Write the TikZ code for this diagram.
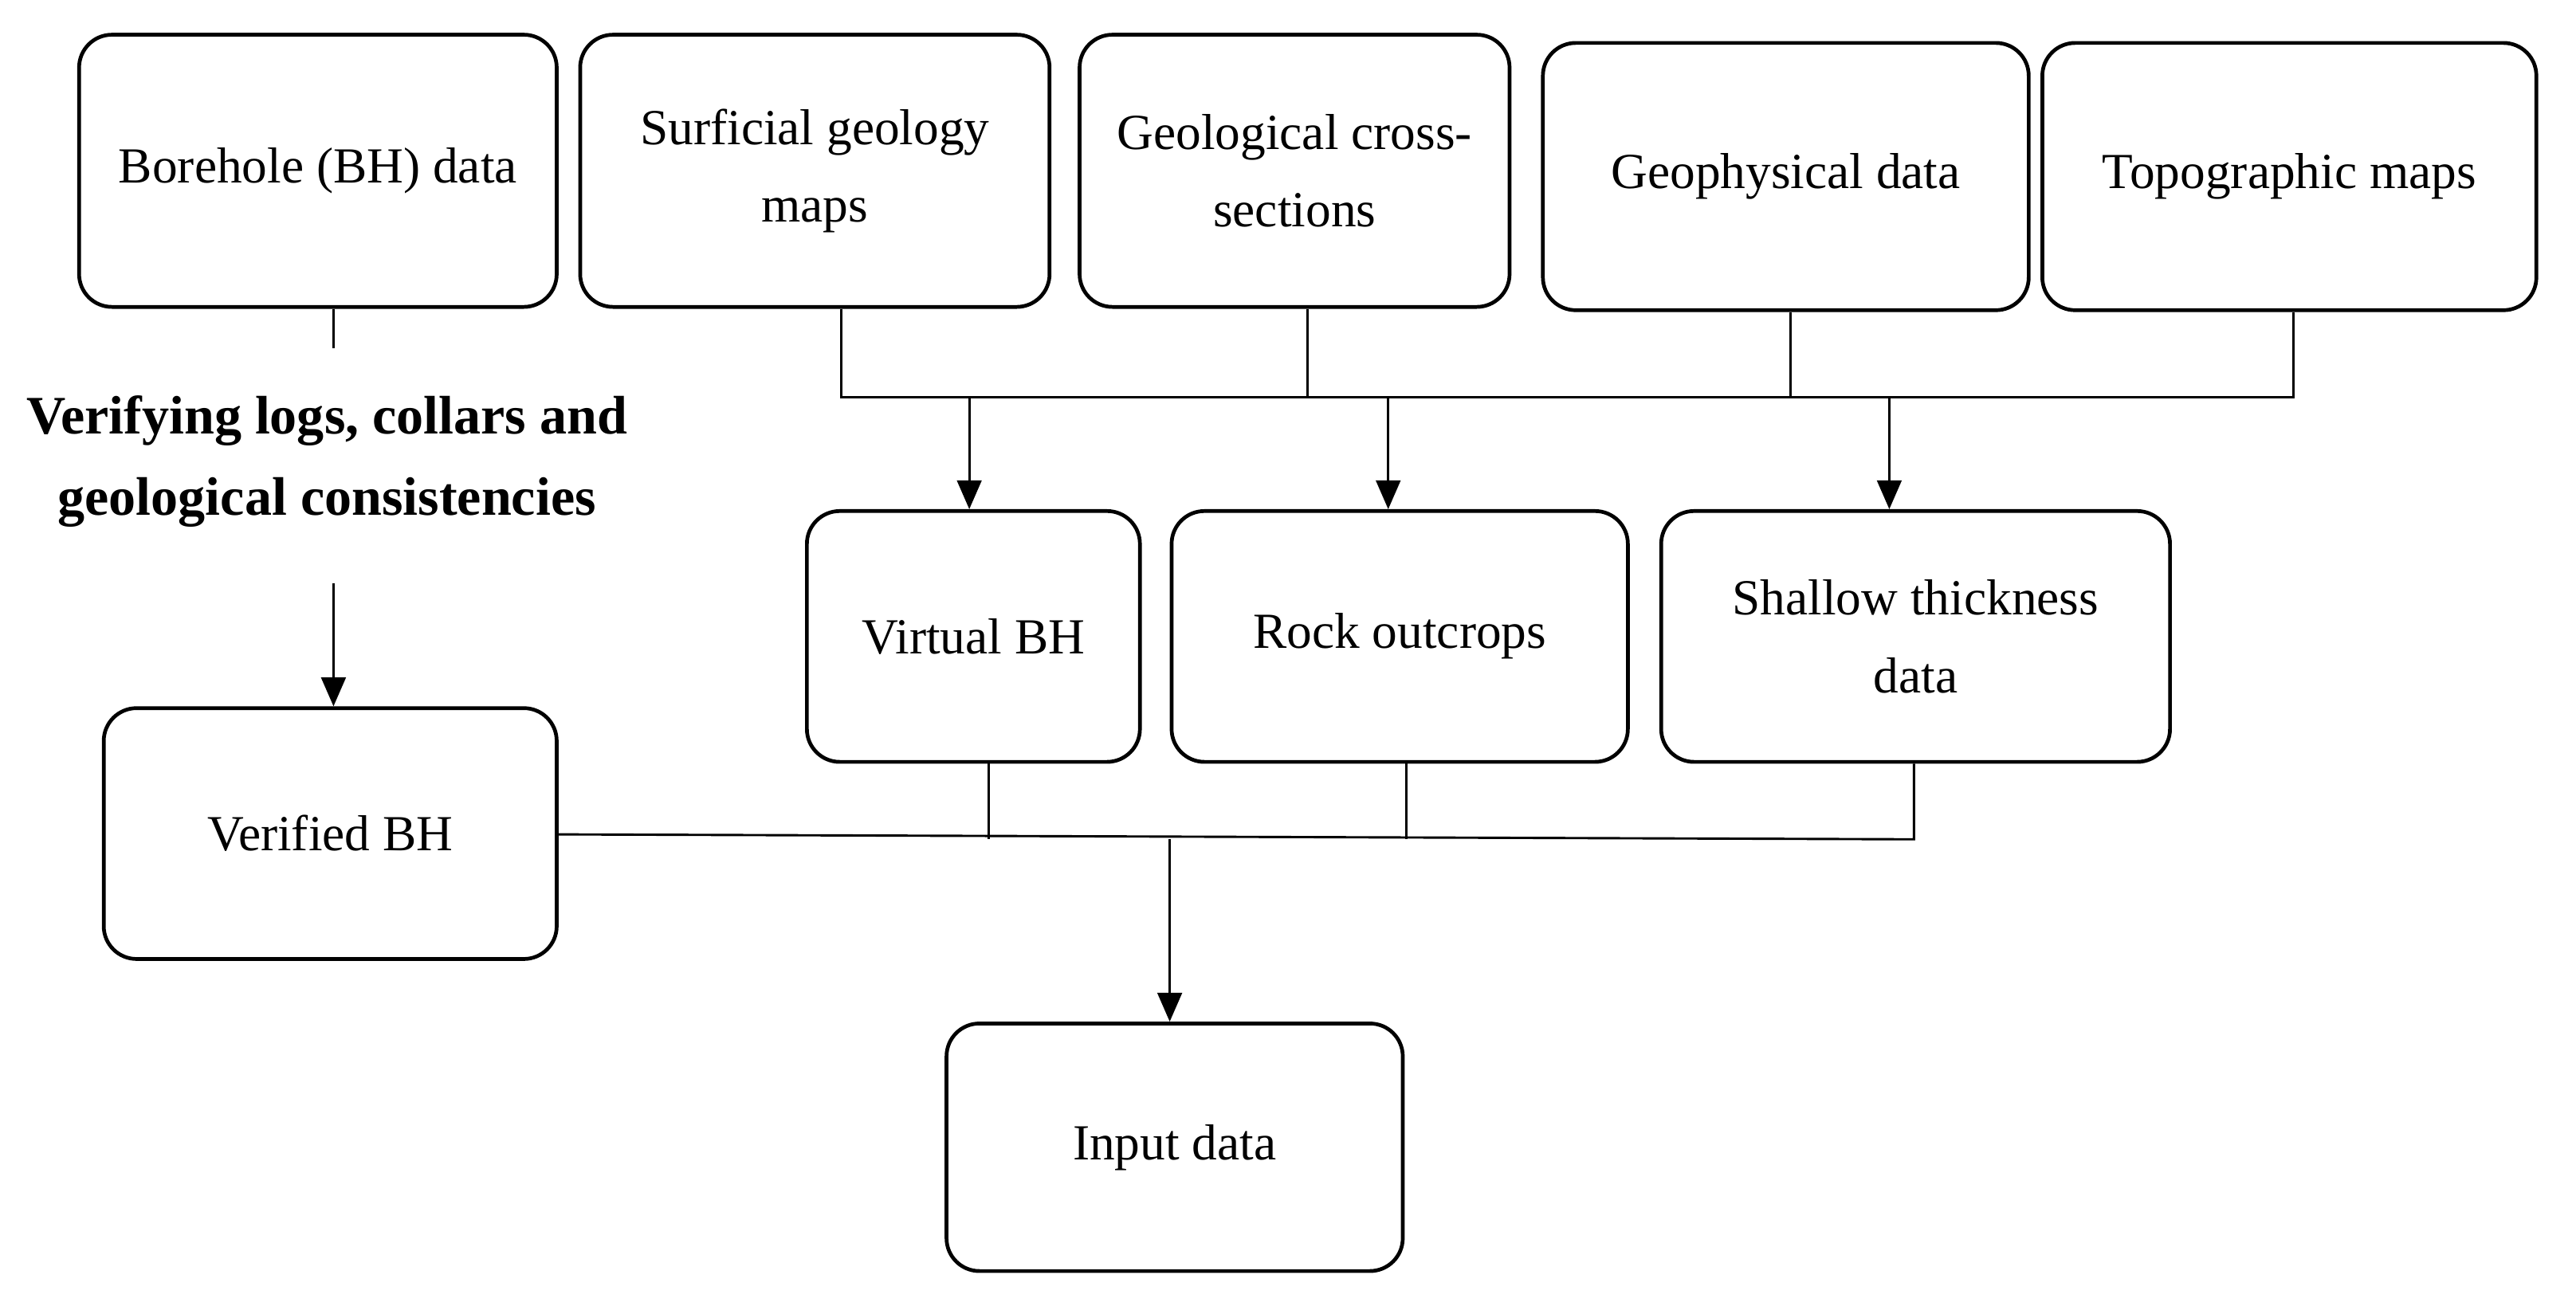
\documentclass[tikz,border=0pt]{standalone}
\usepackage{fontspec}
\setmainfont{Liberation Serif}
\usetikzlibrary{arrows.meta}
\begin{document}
\begin{tikzpicture}[x=0.02cm,y=-0.02cm,
  box/.style={draw,line width=1.3pt,rounded corners=0.4cm,align=center,font=\fontsize{17.5}{27}\selectfont},
  ln/.style={line width=0.8pt},
  ar/.style={line width=0.8pt,-{Triangle[length=10pt,width=8.5pt]}}]
\useasboundingbox (0,0) rectangle (1568,800);
\newcommand{\bx}[6]{\node[box,minimum width=#4*0.02cm-1.3pt,minimum height=#5*0.02cm-1.3pt] (#1) at ({(#2+#4/2)},{(#3+#5/2)}) {#6};}
\bx{bh}{47}{20}{293}{168}{Borehole (BH) data}
\bx{sg}{352}{20}{288}{168}{Surficial geology\\maps}
\bx{gc}{656}{20}{264}{168}{Geological cross-\\sections}
\bx{gp}{938}{25}{298}{165}{Geophysical data}
\bx{tm}{1242}{25}{303}{165}{Topographic maps}
\bx{vb}{490}{310}{205}{155}{Virtual BH}
\bx{ro}{712}{310}{280}{155}{Rock outcrops}
\bx{st}{1010}{310}{312}{155}{Shallow thickness\\data}
\bx{vf}{62}{430}{278}{155}{Verified BH}
\bx{in}{575}{622}{280}{153}{Input data}
\node[font=\bfseries\fontsize{18.8}{28}\selectfont,align=center] (vt) at (199,281) {Verifying logs, collars and\\geological consistencies};
\coordinate (b1) at (203,212);
\coordinate (b2) at (203,355);
\draw[ln] (bh.south -| b1) -- (b1);
\draw[ar] (b2) -- (b2 |- vf.north);
% top bus
\coordinate (t1) at (512,242); \coordinate (t2) at (796,242);
\coordinate (t3) at (1090,242); \coordinate (t4) at (1396,242);
\draw[ln] (sg.south -| t1) -- (t1) -- (t4) -- (tm.south -| t4);
\draw[ln] (gc.south -| t2) -- (t2);
\draw[ln] (gp.south -| t3) -- (t3);
\coordinate (a1) at (590,242); \coordinate (a2) at (845,242); \coordinate (a3) at (1150,242);
\draw[ar] (a1) -- (a1 |- vb.north);
\draw[ar] (a2) -- (a2 |- ro.north);
\draw[ar] (a3) -- (a3 |- st.north);
% bottom bus
\coordinate (m0) at (340,508); \coordinate (m1) at (602,511);
\coordinate (m2) at (856,511); \coordinate (m3) at (1165,511);
\coordinate (mi) at (712,511);
\draw[ln] (m0) -- (m3) -- (st.south -| m3);
\draw[ln] (vb.south -| m1) -- (m1);
\draw[ln] (ro.south -| m2) -- (m2);
\draw[ar] (mi) -- (mi |- in.north);
\end{tikzpicture}
\end{document}
